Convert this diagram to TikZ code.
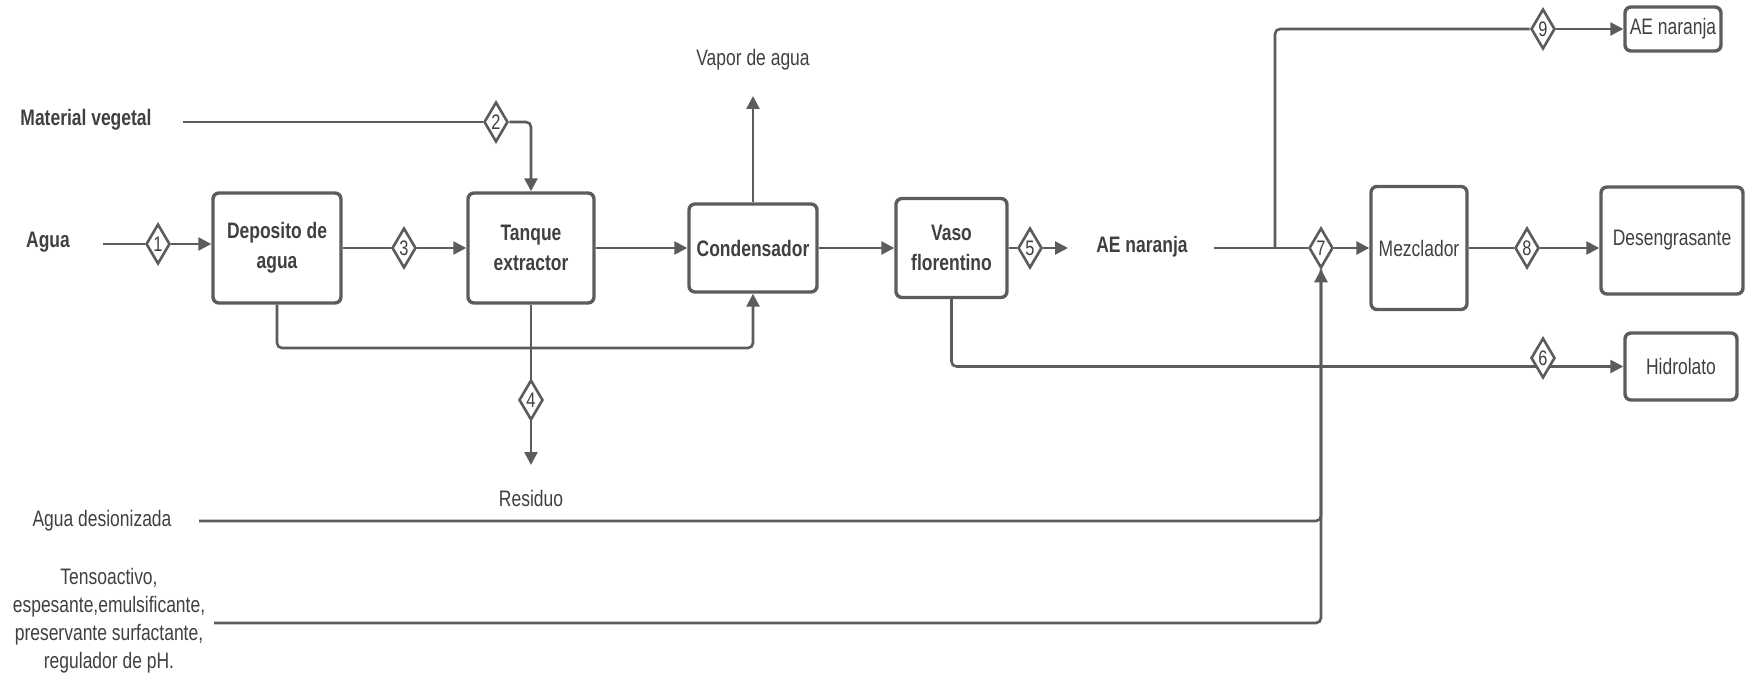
\documentclass[tikz,border=0pt]{standalone}
\usepackage{fontspec}
\setmainfont{Liberation Sans}[FakeStretch=0.78]
\usetikzlibrary{arrows.meta,shapes.geometric}
\definecolor{PipeGray}{HTML}{5C5C5C}
\definecolor{InkGray}{HTML}{404040}

\begin{document}
\begin{tikzpicture}[
    x=0.5pt, y=-0.5pt,
    unit/.style={draw=PipeGray, fill=white, line width=1.7pt, rounded corners=3pt, align=center, text=InkGray, font=\fontsize{11.2}{15}\selectfont, inner sep=2pt},
    bunit/.style={unit, font=\fontsize{11.2}{15}\selectfont\bfseries},
    lbl/.style={text=InkGray, font=\fontsize{11.2}{14}\selectfont, align=center, inner sep=0pt},
    blbl/.style={lbl, font=\fontsize{11.2}{14}\selectfont\bfseries},
    strm/.style={diamond, draw=PipeGray, fill=white, line width=1.3pt, minimum width=12pt, minimum height=20pt, inner sep=0pt, text=InkGray, font=\fontsize{10.5}{10.5}\selectfont},
    pipe/.style={draw=PipeGray, line width=1.3pt, rounded corners=2.5pt},
    arrow/.style={pipe, -{Triangle[length=6.5pt, width=6.5pt]}}
  ]
    \useasboundingbox (0,0) rectangle (1746,679);

    % equipos
    \node[bunit, minimum width=64pt, minimum height=55pt] (dep) at (277,248) {Deposito de\\agua};
    \node[bunit, minimum width=63pt, minimum height=55pt] (tan) at (531,248) {Tanque\\extractor};
    \node[bunit, minimum width=64pt, minimum height=44pt] (con) at (753,248) {Condensador};
    \node[bunit, minimum width=55.5pt, minimum height=49.5pt] (vaso) at (951.5,248) {Vaso\\florentino};
    \node[unit, minimum width=48pt, minimum height=61.5pt] (mez) at (1419,248) {Mezclador};
    \node[unit, minimum width=71pt, minimum height=53.5pt] (des) at (1672,240.5) {Desengrasante};
    \node[unit, minimum width=48pt, minimum height=22pt, inner sep=1pt] (aeo) at (1673,29) {AE naranja};
    \node[unit, minimum width=56pt, minimum height=33.5pt] (hid) at (1681,366.5) {Hidrolato};

    % corrientes
    \node[blbl] (agua) at (48,242) {Agua};
    \node[blbl] (mat) at (86,120) {Material vegetal};
    \node[lbl] (vapor) at (753,60) {Vapor de agua};
    \node[blbl] (aen) at (1142,247) {AE naranja};
    \node[lbl] (res) at (531,498) {Residuo};
    \node[lbl] (desion) at (102,521) {Agua desionizada};
    \node[lbl] (tenso) at (109,621) {Tensoactivo,\\espesante,emulsificante,\\preservante surfactante,\\regulador de pH.};

    \node[strm] (d1) at (158,244) {1};
    \node[strm] (d2) at (496,122) {2};
    \node[strm] (d3) at (404,248) {3};
    \node[strm] (d4) at (531,400) {4};
    \node[strm] (d5) at (1030,248) {5};
    \node[strm] (d7) at (1321,248) {7};
    \node[strm] (d8) at (1527,248) {8};
    \node[strm] (d9) at (1543,29) {9};

    \coordinate (aguaS) at (103,244);
    \coordinate (matS) at (183,122);
    \coordinate (vapT) at (753,96);
    \coordinate (retC) at (753,348);
    \coordinate (resT) at (531,465);
    \coordinate (aeT) at (1068,248);
    \coordinate (aeS) at (1214,248);
    \coordinate (brC) at (1275,248);
    \coordinate (desS) at (199,521);
    \coordinate (tenS) at (214,623);

    \draw[pipe] (aguaS) -- (d1);
    \draw[arrow] (d1) -- (d1 -| dep.west);
    \draw[pipe] (matS) -- (d2);
    \draw[arrow] (d2.east) -| (tan.north);
    \draw[pipe] (dep.east |- d3) -- (d3);
    \draw[arrow] (d3) -- (d3 -| tan.west);
    \draw[arrow] (tan) -- (con);
    \draw[arrow] (con) -- (vapT);
    \draw[arrow] (con) -- (vaso);
    \draw[arrow] (dep.south) |- (retC) -- (con.south);
    \draw[pipe] (tan.south) -- (d4);
    \draw[arrow] (d4) -- (resT);
    \draw[pipe] (vaso) -- (d5);
    \draw[arrow] (d5) -- (aeT);
    \draw[pipe] (aeS) -- (d7);
    \draw[arrow] (d7) -- (d7 -| mez.west);
    \draw[pipe] (brC) |- (d9);
    \draw[arrow] (d9) -- (d9 -| aeo.west);
    \draw[pipe] (mez.east |- d8) -- (d8);
    \draw[arrow] (d8) -- (d8 -| des.west);
    \draw[arrow] (vaso.south) |- (hid.west);
    \draw[pipe] (desS) -| (d7.south);
    \draw[arrow] (tenS) -| (d7.south);
    \node[strm] (d6) at (1543,358) {6};
\end{tikzpicture}
\end{document}
